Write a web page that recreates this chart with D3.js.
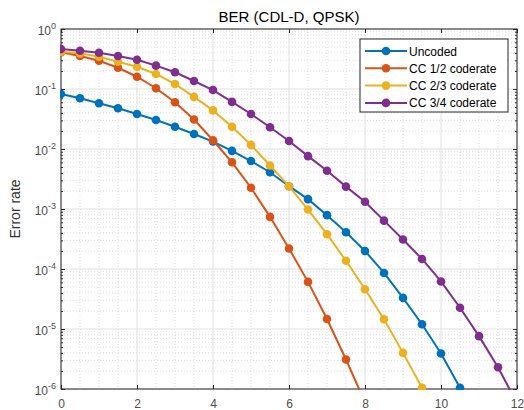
<!DOCTYPE html>
<html>
<head>
<meta charset="utf-8">
<script src="https://cdn.jsdelivr.net/npm/d3@7"></script>
<style>
  body { margin: 0; background: #fff; }
  svg { display: block; font-family: Arial, "Liberation Sans", Helvetica, sans-serif; }
</style>
</head>
<body>
<div id="viz"></div>
<script>
// Eb/No steps (dB)
var snr = [0, 0.5, 1, 1.5, 2, 2.5, 3, 3.5, 4, 4.5, 5, 5.5, 6, 6.5, 7, 7.5, 8, 8.5, 9, 9.5, 10, 10.5, 11, 11.5, 12];

var uncoded = [0.0826, 0.070, 0.0578, 0.0477, 0.0383, 0.0304, 0.0235, 0.0178, 0.0133, 0.0093, 0.0063, 0.0041,
  0.0024, 0.00146, 7.9e-4, 4.1e-4, 2.0e-4, 8.6e-5, 3.3e-5, 1.2e-5, 3.9e-6, 1.05e-6];
var cc12 = [0.409, 0.355, 0.296, 0.226, 0.160, 0.103, 0.060, 0.031, 0.014, 0.006, 0.00226, 7.4e-4,
  2.2e-4, 6.1e-5, 1.47e-5, 3.1e-6, 6e-7];
var cc23 = [0.418, 0.393, 0.346, 0.285, 0.235, 0.178, 0.121, 0.074, 0.044, 0.0235, 0.0117, 0.0053,
  0.0024, 9.8e-4, 3.8e-4, 1.37e-4, 4.6e-5, 1.45e-5, 4.0e-6, 1.05e-6];
var cc34 = [0.464, 0.435, 0.403, 0.355, 0.308, 0.245, 0.190, 0.136, 0.096, 0.061, 0.0383, 0.023,
  0.0136, 0.0076, 0.00435, 0.00236, 0.00132, 6.4e-4, 3.1e-4, 1.47e-4, 6.2e-5, 2.26e-5, 7.6e-6, 2.3e-6, 5.8e-7];

var names = ["Uncoded", "CC 1/2 coderate", "CC 2/3 coderate", "CC 3/4 coderate"];
var colors = ["#0072BD", "#D95319", "#EDB120", "#7E2F8E"];
var xTicks = [0, 2, 4, 6, 8, 10, 12];
var yExps = [0, -1, -2, -3, -4, -5, -6];

var series = [uncoded, cc12, cc23, cc34].map(function(vals, i) {
  return { name: names[i], color: colors[i], points: vals.map(function(v, j) { return { x: snr[j], y: v }; }) };
});

var W = 524, H = 410;
var margin = { top: 29, right: 7, bottom: 21, left: 61 },
  width = W - margin.left - margin.right,
  height = H - margin.top - margin.bottom;

var svg = d3.select("#viz").append("svg").attr("width", W).attr("height", H);

var x = d3.scaleLinear().domain([0, 12]).range([0, width]);
var y = d3.scaleLog().domain([1e-6, 1]).range([height, 0]);

var g = svg.append("g").attr("transform", "translate(" + margin.left + "," + margin.top + ")");

// minor grid
var xMinor = d3.range(0, 12.01, 0.5).filter(function(d) { return d % 2 !== 0; });
var yMinor = [];
yExps.slice(1).forEach(function(e) {
  for (var k = 2; k <= 9; k++) yMinor.push(k * Math.pow(10, e));
});

g.append("g").selectAll("line").data(xMinor).enter().append("line")
  .attr("x1", function(d) { return x(d); }).attr("x2", function(d) { return x(d); })
  .attr("y1", 0).attr("y2", height)
  .style("stroke", "#c8c8c8").style("stroke-dasharray", "1,2").style("stroke-width", 0.6);

g.append("g").selectAll("line").data(yMinor).enter().append("line")
  .attr("x1", 0).attr("x2", width)
  .attr("y1", function(d) { return y(d); }).attr("y2", function(d) { return y(d); })
  .style("stroke", "#c8c8c8").style("stroke-dasharray", "1,2").style("stroke-width", 0.6);

// major grid
g.append("g").selectAll("line").data(xTicks).enter().append("line")
  .attr("x1", function(d) { return x(d); }).attr("x2", function(d) { return x(d); })
  .attr("y1", 0).attr("y2", height)
  .style("stroke", "#e0e0e0").style("stroke-width", 1);

g.append("g").selectAll("line").data(yExps).enter().append("line")
  .attr("x1", 0).attr("x2", width)
  .attr("y1", function(d) { return y(Math.pow(10, d)); }).attr("y2", function(d) { return y(Math.pow(10, d)); })
  .style("stroke", "#e0e0e0").style("stroke-width", 1);

// axes (ticks inside, on all four sides)
var tickColor = "#262626";
function styleAxis(sel) {
  sel.select(".domain").remove();
  sel.selectAll(".tick line").style("stroke", tickColor);
  sel.selectAll(".tick text").style("fill", "#4d4d4d").style("font-size", "12px");
}

g.append("g").attr("transform", "translate(0," + height + ")")
  .call(d3.axisBottom(x).tickValues(xTicks).tickSize(-4).tickPadding(10).tickFormat(d3.format("d")))
  .call(styleAxis);
g.append("g")
  .call(d3.axisTop(x).tickValues(xTicks).tickSize(-4).tickFormat(""))
  .call(styleAxis);

var yAll = yExps.map(function(e) { return Math.pow(10, e); });
g.append("g")
  .call(d3.axisLeft(y).tickValues(yAll).tickSize(-4).tickFormat(""))
  .call(styleAxis);
g.append("g").attr("transform", "translate(" + width + ",0)")
  .call(d3.axisRight(y).tickValues(yAll).tickSize(-4).tickFormat(""))
  .call(styleAxis);
g.append("g")
  .call(d3.axisLeft(y).tickValues(yMinor).tickSize(-2).tickFormat(""))
  .call(styleAxis);
g.append("g").attr("transform", "translate(" + width + ",0)")
  .call(d3.axisRight(y).tickValues(yMinor).tickSize(-2).tickFormat(""))
  .call(styleAxis);

// y tick labels 10^e
var yl = g.append("g").selectAll("text").data(yExps).enter().append("text")
  .attr("x", -5)
  .attr("y", function(d) { return y(Math.pow(10, d)) + 6; })
  .style("text-anchor", "end")
  .style("fill", "#4d4d4d")
  .style("font-size", "12px");
yl.append("tspan").text("10");
yl.append("tspan").attr("dy", -6).style("font-size", "9px").text(function(d) { return d; });

// box
g.append("rect").attr("width", width).attr("height", height)
  .style("fill", "none").style("stroke", tickColor).style("stroke-width", 1);

// title + y label
svg.append("text").attr("x", margin.left + width / 2).attr("y", 22)
  .style("text-anchor", "middle").style("font-size", "15px").style("fill", "#000")
  .text("BER (CDL-D, QPSK)");

svg.append("text")
  .attr("transform", "translate(20," + (margin.top + height / 2) + ") rotate(-90)")
  .style("text-anchor", "middle").style("font-size", "14px").style("fill", "#333")
  .text("Error rate");

// data, clipped to the axes
svg.append("clipPath").attr("id", "clip").append("rect")
  .attr("x", -1).attr("y", -1).attr("width", width + 2).attr("height", height + 2);

var line = d3.line().x(function(d) { return x(d.x); }).y(function(d) { return y(d.y); });

var plot = g.append("g").attr("clip-path", "url(#clip)");
var sg = plot.selectAll("g.series").data(series).enter().append("g").attr("class", "series");

sg.append("path")
  .attr("d", function(d) { return line(d.points); })
  .style("fill", "none")
  .style("stroke", function(d) { return d.color; })
  .style("stroke-width", 2);

sg.selectAll("circle").data(function(d) { return d.points.map(function(p) { return { x: p.x, y: p.y, color: d.color }; }); })
  .enter().append("circle")
  .attr("cx", function(d) { return x(d.x); })
  .attr("cy", function(d) { return y(d.y); })
  .attr("r", 4.3)
  .style("fill", function(d) { return d.color; });

// legend
var lg = svg.append("g").attr("transform", "translate(360,39)");
lg.append("rect").attr("width", 148).attr("height", 73)
  .style("fill", "#fff").style("stroke", tickColor).style("stroke-width", 1);

var item = lg.selectAll("g.item").data(series).enter().append("g")
  .attr("class", "item")
  .attr("transform", function(d, i) { return "translate(0," + (12 + i * 17.3) + ")"; });

item.append("line").attr("x1", 5).attr("x2", 47).attr("y1", 0).attr("y2", 0)
  .style("stroke", function(d) { return d.color; }).style("stroke-width", 2);
item.append("circle").attr("cx", 26).attr("cy", 0).attr("r", 4.3)
  .style("fill", function(d) { return d.color; });
item.append("text").attr("x", 49).attr("y", 4.5)
  .style("font-size", "12px").style("fill", "#000")
  .text(function(d) { return d.name; });
</script>
</body>
</html>
